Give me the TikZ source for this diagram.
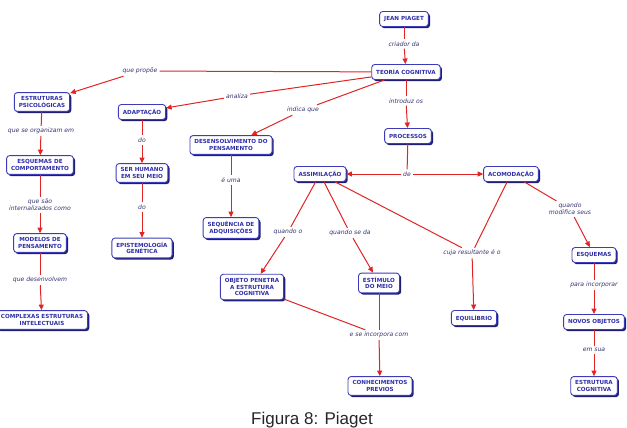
\documentclass[tikz,border=0pt]{standalone}
\usepackage{fontspec}
\setmainfont{DejaVu Sans}
\newfontfamily\capfont{Liberation Sans}
\usetikzlibrary{shadows,arrows.meta}
\definecolor{cbord}{HTML}{3C3CB8}
\definecolor{ctext}{HTML}{2E2EA8}
\definecolor{cshad}{HTML}{1E1E78}
\definecolor{clab}{HTML}{33336E}
\definecolor{cline}{HTML}{E02424}
\tikzset{
  concept/.style={draw=cbord, line width=0.9pt, fill=white, rounded corners=3pt,
    align=center, text=ctext, inner xsep=4.5pt, inner ysep=4pt, minimum height=15pt,
    font=\fontsize{5.6}{6.6}\selectfont\bfseries,
    drop shadow={shadow xshift=1.7pt, shadow yshift=-1.7pt, fill=cshad, opacity=1}},
  lab/.style={align=center, text=clab, inner sep=2pt,
    font=\fontsize{6.1}{7}\selectfont\itshape},
  link/.style={draw=cline, line width=1pt},
  arr/.style={link, -{Triangle[length=5.5pt,width=5pt]}}
}
\begin{document}
\begin{tikzpicture}[x=1pt,y=-1pt]
\useasboundingbox (0,0) rectangle (627,428);
% concepts
\node[concept] (piaget) at (404,19) {JEAN PIAGET};
\node[concept] (teoria) at (406,72) {TEORÍA COGNITIVA};
\node[concept] (proc) at (408,136) {PROCESSOS};
\node[concept] (assim) at (320,174) {ASSIMILAÇÃO};
\node[concept] (acom) at (511,174) {ACOMODAÇÃO};
\node[concept] (esq) at (594,255) {ESQUEMAS};
\node[concept] (novos) at (594,322) {NOVOS OBJETOS};
\node[concept] (estcog) at (594,386) {ESTRUTURA\\COGNITIVA};
\node[concept] (equil) at (474,318) {EQUILÍBRIO};
\node[concept] (estim) at (379,283) {ESTÍMULO\\DO MEIO};
\node[concept] (conhec) at (380,386) {CONHECIMENTOS\\PREVIOS};
\node[concept] (objeto) at (252,287) {OBJETO PENETRA\\A ESTRUTURA\\COGNITIVA};
\node[concept] (desen) at (231,145) {DESENSOLVIMENTO DO\\PENSAMENTO};
\node[concept] (seq) at (231,228) {SEQUÊNCIA DE\\ADQUISIÇÕES};
\node[concept] (adap) at (142,112) {ADAPTAÇÃO};
\node[concept] (ser) at (142,173) {SER HUMANO\\EM SEU MEIO};
\node[concept] (epis) at (142,248) {EPISTEMOLOGÍA\\GENÉTICA};
\node[concept] (estpsi) at (42,102) {ESTRUTURAS\\PSICOLÓGICAS};
\node[concept] (esqcomp) at (40,165) {ESQUEMAS DE\\COMPORTAMENTO};
\node[concept] (model) at (40,243) {MODELOS DE\\PENSAMENTO};
\node[concept] (complex) at (42,320) {COMPLEXAS ESTRUTURAS\\INTELECTUAIS};
% labels
\node[lab] (l1) at (404,44) {criador da};
\node[lab] (l2) at (406,101) {introduz os};
\node[lab] (l3) at (407,174) {de};
\node[lab] (l4) at (570,209) {quando\\modifica seus};
\node[lab] (l5) at (594,285) {para incorporar};
\node[lab] (l6) at (594,350) {em sua};
\node[lab] (l7) at (472,253) {cuja resultante é o};
\node[lab] (l8) at (350,233) {quando se da};
\node[lab] (l9) at (288,232) {quando o};
\node[lab] (l10) at (379,335) {e se incorpora com};
\node[lab] (l11) at (140,71) {que propõe};
\node[lab] (l12) at (237,96) {analiza};
\node[lab] (l13) at (303,110) {indica que};
\node[lab] (l14) at (231,180) {é uma};
\node[lab] (l15) at (142,140) {do};
\node[lab] (l16) at (142,207) {do};
\node[lab] (l17) at (41,131) {que se organizam em};
\node[lab] (l18) at (40,205) {que são\\internalizados como};
\node[lab] (l19) at (40,280) {que desenvolvem};
% connectors
\draw[link] (piaget) -- (l1); \draw[arr] (l1) -- (teoria);
\draw[link] (teoria) -- (l2); \draw[arr] (l2) -- (proc);
\draw[link] (proc) -- (l3); \draw[arr] (l3) -- (assim); \draw[arr] (l3) -- (acom);
\draw[link] (acom) -- (l4); \draw[arr] (l4) -- (esq);
\draw[link] (esq) -- (l5); \draw[arr] (l5) -- (novos);
\draw[link] (novos) -- (l6); \draw[arr] (l6) -- (estcog);
\draw[link] (assim) -- (l7); \draw[link] (acom) -- (l7); \draw[arr] (l7) -- (equil);
\draw[link] (assim) -- (l8); \draw[arr] (l8) -- (estim);
\draw[link] (assim) -- (l9); \draw[arr] (l9) -- (objeto);
\draw[link] (objeto) -- (l10); \draw[link] (estim) -- (l10); \draw[arr] (l10) -- (conhec);
\draw[link] (teoria) -- (l11); \draw[arr] (l11) -- (estpsi);
\draw[link] (teoria) -- (l12); \draw[arr] (l12) -- (adap);
\draw[link] (teoria) -- (l13); \draw[arr] (l13) -- (desen);
\draw[link] (desen) -- (l14); \draw[arr] (l14) -- (seq);
\draw[link] (adap) -- (l15); \draw[arr] (l15) -- (ser);
\draw[link] (ser) -- (l16); \draw[arr] (l16) -- (epis);
\draw[link] (estpsi) -- (l17); \draw[arr] (l17) -- (esqcomp);
\draw[link] (esqcomp) -- (l18); \draw[arr] (l18) -- (model);
\draw[link] (model) -- (l19); \draw[arr] (l19) -- (complex);
% caption
\node[anchor=base, inner sep=0pt, font=\capfont\fontsize{17}{20}\selectfont, text=black!85] (cap) at (312,424) {Figura 8: Piaget};
\end{tikzpicture}
\end{document}
